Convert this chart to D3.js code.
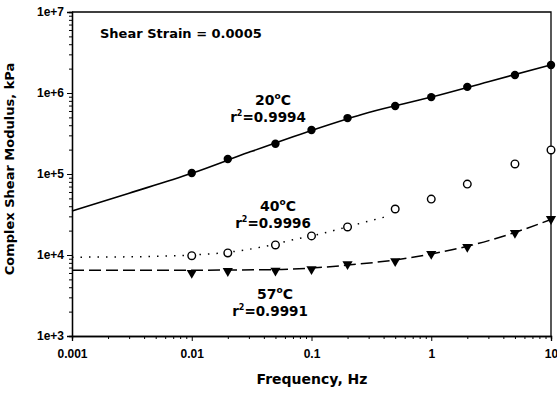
<!DOCTYPE html>
<html>
<head>
<meta charset="utf-8">
<script src="https://cdn.jsdelivr.net/npm/d3@7"></script>
<style>
  body { margin: 0; background: #fff; }
  svg { display: block; font-family: "DejaVu Sans", "Liberation Sans", Arial, sans-serif; font-weight: bold; }
</style>
</head>
<body>
<div id="chart"></div>
<script>
// measured points (Hz, kPa)
const freq = [0.01, 0.02, 0.05, 0.1, 0.2, 0.5, 1, 2, 5, 10];
const g20 = [1.03e5, 1.53e5, 2.36e5, 3.49e5, 4.9e5, 6.9e5, 8.9e5, 1.19e6, 1.67e6, 2.22e6];
const g40 = [9.8e3, 1.06e4, 1.33e4, 1.72e4, 2.22e4, 3.7e4, 4.9e4, 7.5e4, 1.33e5, 1.98e5];
const g57 = [6.0e3, 6.34e3, 6.4e3, 6.7e3, 7.7e3, 8.4e3, 1.03e4, 1.26e4, 1.87e4, 2.78e4];

// fitted curves
const fitFreq20 = [0.001, 0.003, 0.01, 0.03, 0.1, 0.3, 1, 3, 10];
const fit20 = [3.5e4, 5.8e4, 1.02e5, 1.85e5, 3.45e5, 5.75e5, 8.9e5, 1.38e6, 2.22e6];
const fitFreq40 = [0.001, 0.003, 0.01, 0.02, 0.04, 0.07, 0.12, 0.28, 0.45];
const fit40 = [9.4e3, 9.5e3, 1.0e4, 1.08e4, 1.27e4, 1.54e4, 1.83e4, 2.55e4, 3.05e4];
const fitFreq57 = [0.001, 0.01, 0.05, 0.1, 0.2, 0.5, 1, 2, 5, 10];
const fit57 = [6.5e3, 6.5e3, 6.6e3, 6.9e3, 7.5e3, 8.7e3, 1.03e4, 1.28e4, 1.9e4, 2.75e4];

const xTicks = [0.001, 0.01, 0.1, 1, 10];
const xTickLabels = ['0.001', '0.01', '0.1', '1', '10'];
const yTicks = [1e3, 1e4, 1e5, 1e6, 1e7];
const yTickLabels = ['1e+3', '1e+4', '1e+5', '1e+6', '1e+7'];

const width = 557, height = 394;
const plotLeft = 72, plotRight = 551, plotTop = 12, plotBottom = 336;

const svg = d3.select('#chart').append('svg')
  .attr('width', width)
  .attr('height', height);

const x = d3.scaleLog().domain([0.001, 10]).range([plotLeft, plotRight]);
const y = d3.scaleLog().domain([1e3, 1e7]).range([plotBottom, plotTop]);

// minor ticks for every decade
const minorX = [], minorY = [];
xTicks.slice(0, -1).forEach(t => { for (let k = 2; k < 10; k++) minorX.push(t * k); });
yTicks.slice(0, -1).forEach(t => { for (let k = 2; k < 10; k++) minorY.push(t * k); });

const xAxis = svg.append('g').attr('transform', `translate(0,${plotBottom})`);
xAxis.call(d3.axisBottom(x).tickValues(minorX).tickSize(3).tickFormat(''));
xAxis.append('g').call(d3.axisBottom(x).tickValues(xTicks).tickSize(5)
  .tickFormat((d, i) => xTickLabels[i]));
xAxis.selectAll('.domain').attr('stroke-width', 1.3);
xAxis.selectAll('text').attr('fill', '#000').style('font-size', '12px')
  .style('font-weight', 'bold').style('font-family', 'inherit').attr('dy', '1.15em');

const yAxis = svg.append('g').attr('transform', `translate(${plotLeft},0)`);
yAxis.call(d3.axisLeft(y).tickValues(minorY).tickSize(3).tickFormat(''));
yAxis.append('g').call(d3.axisLeft(y).tickValues(yTicks).tickSize(5)
  .tickFormat((d, i) => yTickLabels[i]));
yAxis.selectAll('.domain').attr('stroke-width', 1.3);
yAxis.selectAll('text').attr('fill', '#000').style('font-size', '12px')
  .style('font-weight', 'bold').style('font-family', 'inherit').attr('x', -8);

// frame top and right
svg.append('path')
  .attr('d', `M${plotLeft},${plotTop}H${plotRight}V${plotBottom}`)
  .attr('fill', 'none')
  .attr('stroke', '#000')
  .attr('stroke-width', 1.3);

const line = d3.line()
  .x(d => x(d[0]))
  .y(d => y(d[1]))
  .curve(d3.curveMonotoneX);

svg.append('path')
  .datum(d3.zip(fitFreq20, fit20))
  .attr('d', line)
  .attr('fill', 'none')
  .attr('stroke', '#000')
  .attr('stroke-width', 1.6);

svg.append('path')
  .datum(d3.zip(fitFreq40, fit40))
  .attr('d', line)
  .attr('fill', 'none')
  .attr('stroke', '#000')
  .attr('stroke-width', 1.5)
  .attr('stroke-dasharray', '1.5,7');

svg.append('path')
  .datum(d3.zip(fitFreq57, fit57))
  .attr('d', line)
  .attr('fill', 'none')
  .attr('stroke', '#000')
  .attr('stroke-width', 1.5)
  .attr('stroke-dasharray', '12,5');

// markers
svg.append('g').selectAll('circle')
  .data(d3.zip(freq, g20))
  .enter().append('circle')
  .attr('cx', d => x(d[0]))
  .attr('cy', d => y(d[1]))
  .attr('r', 4.2)
  .attr('fill', '#000');

svg.append('g').selectAll('circle')
  .data(d3.zip(freq, g40))
  .enter().append('circle')
  .attr('cx', d => x(d[0]))
  .attr('cy', d => y(d[1]))
  .attr('r', 3.8)
  .attr('fill', '#fff')
  .attr('stroke', '#000')
  .attr('stroke-width', 1.4);

const tri = d3.symbol().type(d3.symbolTriangle).size(45);
svg.append('g').selectAll('path')
  .data(d3.zip(freq, g57))
  .enter().append('path')
  .attr('d', tri)
  .attr('transform', d => `translate(${x(d[0])},${y(d[1])}) rotate(180)`)
  .attr('fill', '#000');

// annotations
svg.append('text')
  .attr('x', 100).attr('y', 38)
  .style('font-size', '13px')
  .text('Shear Strain = 0.0005');

function tempLabel(cx, cy, temp, r2) {
  const t = svg.append('text')
    .attr('x', cx).attr('y', cy)
    .attr('text-anchor', 'middle')
    .style('font-size', '14px');
  t.append('tspan').text(temp);
  t.append('tspan').attr('dy', -6).style('font-size', '9px').text('o');
  t.append('tspan').attr('dy', 6).text('C');

  const r = svg.append('text')
    .attr('x', cx - 5).attr('y', cy + 17)
    .attr('text-anchor', 'middle')
    .style('font-size', '13.5px');
  r.append('tspan').text('r');
  r.append('tspan').attr('dy', -6).style('font-size', '8px').text('2');
  r.append('tspan').attr('dy', 6).text('=' + r2);
}
tempLabel(273, 105, '20', '0.9994');
tempLabel(278, 211, '40', '0.9996');
tempLabel(275, 299, '57', '0.9991');

// axis titles
svg.append('text')
  .attr('x', 312)
  .attr('y', 384)
  .attr('text-anchor', 'middle')
  .style('font-size', '14px')
  .text('Frequency, Hz');

svg.append('text')
  .attr('transform', `translate(14,${(56 + 282) / 2}) rotate(-90)`)
  .attr('text-anchor', 'middle')
  .style('font-size', '13px')
  .text('Complex Shear Modulus, kPa');
</script>
</body>
</html>
